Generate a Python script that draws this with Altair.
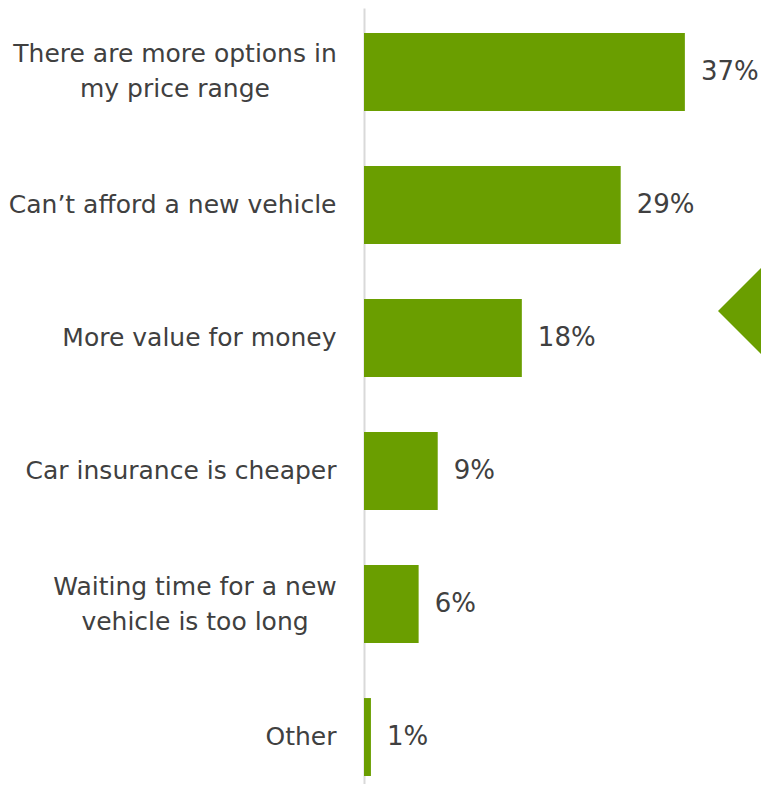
import altair as alt
import pandas as pd

categories = [
    "There are more options in|my price range",
    "Can\u2019t afford a new vehicle",
    "More value for money",
    "Car insurance is cheaper",
    "Waiting time for a new|vehicle is too long",
    "Other",
]
values = [37.0, 29.6, 18.2, 8.5, 6.3, 0.8]
labels = ["37%", "29%", "18%", "9%", "6%", "1%"]

df = pd.DataFrame({"cat": categories, "val": values, "lab": labels})

GREEN = "#6a9e00"
TEXT = "#404040"
FONT = "DejaVu Sans"

x = alt.X("val:Q", scale=alt.Scale(domain=[0, 46.7], nice=False, zero=True, range=[0, 405]), axis=None)
y = alt.Y(
    "cat:N",
    sort=categories,
    scale=alt.Scale(paddingInner=0.414, paddingOuter=0.188, range=[0, 793]),
    axis=alt.Axis(
        title=None,
        ticks=False,
        grid=False,
        domain=True,
        domainColor="#d9d9d9",
        domainWidth=2,
        labelExpr="split(datum.label, '|')",
        labelFont=FONT,
        labelFontSize=25,
        labelColor=TEXT,
        labelLimit=0,
        labelLineHeight=35,
        labelAlign={"condition": {"test": "indexof(datum.label, '|') >= 0", "value": "center"}, "value": "right"},
        labelPadding={
            "condition": [
                {"test": "indexof(datum.label, 'There are') == 0", "value": 189.5},
                {"test": "indexof(datum.label, 'Waiting') == 0", "value": 169.5},
            ],
            "value": 28,
        },
        labelOffset={"condition": {"test": "indexof(datum.label, '|') >= 0", "value": -17.5}, "value": 0},
    ),
)

bars = alt.Chart(df).mark_bar(color=GREEN).encode(x=x, y=y)
text = alt.Chart(df).mark_text(
    align="left", baseline="middle", dx=16, font=FONT, fontSize=26, color=TEXT
).encode(x=x, y=y, text="lab:N")

deco = alt.Chart(pd.DataFrame({"d": [1]})).mark_point(
    shape="diamond", filled=True, color=GREEN, opacity=1, size=10816, clip=False
).encode(x=alt.value(406), y=alt.value(303))

chart = (
    alt.layer(bars, text, deco)
    .properties(
        width=397,
        height=776,
        autosize=alt.AutoSizeParams(type="none"),
        padding={"left": 356, "top": 0, "right": 0, "bottom": 0},
    )
    .configure_view(stroke=None)
)

chart.save("out.html", embed_options={"renderer": "svg", "actions": False})
